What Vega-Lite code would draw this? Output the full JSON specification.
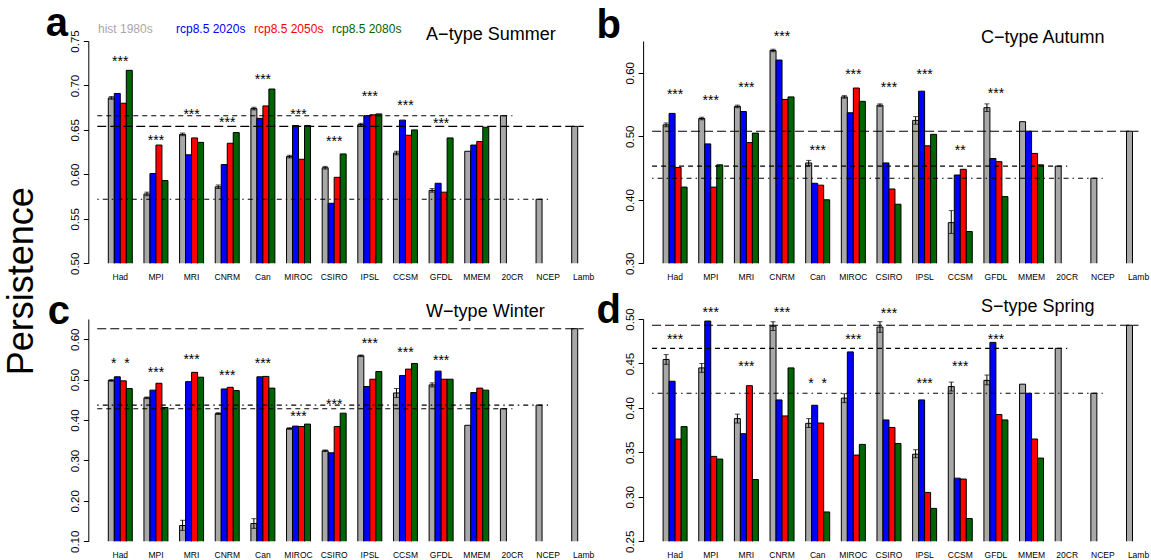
{
  "$schema": "https://vega.github.io/schema/vega-lite/v6.json",
  "autosize": {"type": "none"},
  "padding": {"left": 88.3, "top": 41, "right": 1062.7, "bottom": 519},
  "config": {
    "font": "Liberation Sans",
    "view": {"stroke": null},
    "text": {"color": "black"}
  },
  "title": {"text": "Persistence", "orient": "left", "anchor": "middle", "fontSize": 36, "fontWeight": "normal", "offset": 4, "color": "black", "font": "Liberation Sans"},
  "datasets": {
    "d": [
      {"p": "a", "m": "Had", "h": 0.686, "r20": 0.691, "r50": 0.680, "r80": 0.717, "lo": 0.6845, "hi": 0.6875, "star": "***", "sy": 0.7305},
      {"p": "a", "m": "MPI", "h": 0.578, "r20": 0.601, "r50": 0.633, "r80": 0.593, "lo": 0.576, "hi": 0.580, "star": "***", "sy": 0.642},
      {"p": "a", "m": "MRI", "h": 0.645, "r20": 0.622, "r50": 0.641, "r80": 0.636, "lo": 0.6435, "hi": 0.6465, "star": "***", "sy": 0.671},
      {"p": "a", "m": "CNRM", "h": 0.586, "r20": 0.611, "r50": 0.635, "r80": 0.647, "lo": 0.584, "hi": 0.588, "star": "***", "sy": 0.662},
      {"p": "a", "m": "Can", "h": 0.674, "r20": 0.663, "r50": 0.677, "r80": 0.696, "lo": 0.6725, "hi": 0.6755, "star": "***", "sy": 0.711},
      {"p": "a", "m": "MIROC", "h": 0.620, "r20": 0.655, "r50": 0.617, "r80": 0.655, "lo": 0.6185, "hi": 0.6215, "star": "***", "sy": 0.671},
      {"p": "a", "m": "CSIRO", "h": 0.6075, "r20": 0.5675, "r50": 0.5967, "r80": 0.623, "lo": 0.606, "hi": 0.609, "star": "***", "sy": 0.641},
      {"p": "a", "m": "IPSL", "h": 0.656, "r20": 0.666, "r50": 0.667, "r80": 0.668, "lo": 0.6545, "hi": 0.6575, "star": "***", "sy": 0.691},
      {"p": "a", "m": "CCSM", "h": 0.624, "r20": 0.661, "r50": 0.644, "r80": 0.650, "lo": 0.622, "hi": 0.626, "star": "***", "sy": 0.681},
      {"p": "a", "m": "GFDL", "h": 0.582, "r20": 0.590, "r50": 0.580, "r80": 0.641, "lo": 0.580, "hi": 0.584, "star": "***", "sy": 0.661},
      {"p": "a", "m": "MMEM", "h": 0.626, "r20": 0.633, "r50": 0.637, "r80": 0.653},
      {"p": "a", "m": "20CR", "h": 0.666},
      {"p": "a", "m": "NCEP", "h": 0.572},
      {"p": "a", "m": "Lamb", "h": 0.654},

      {"p": "b", "m": "Had", "h": 0.518, "r20": 0.536, "r50": 0.451, "r80": 0.420, "lo": 0.515, "hi": 0.521, "star": "***", "sy": 0.572},
      {"p": "b", "m": "MPI", "h": 0.528, "r20": 0.488, "r50": 0.420, "r80": 0.455, "lo": 0.526, "hi": 0.530, "star": "***", "sy": 0.562},
      {"p": "b", "m": "MRI", "h": 0.547, "r20": 0.539, "r50": 0.490, "r80": 0.505, "lo": 0.545, "hi": 0.549, "star": "***", "sy": 0.583},
      {"p": "b", "m": "CNRM", "h": 0.635, "r20": 0.620, "r50": 0.558, "r80": 0.562, "lo": 0.633, "hi": 0.637, "star": "***", "sy": 0.662},
      {"p": "b", "m": "Can", "h": 0.458, "r20": 0.426, "r50": 0.423, "r80": 0.400, "lo": 0.454, "hi": 0.462, "star": "***", "sy": 0.483},
      {"p": "b", "m": "MIROC", "h": 0.562, "r20": 0.537, "r50": 0.576, "r80": 0.555, "lo": 0.560, "hi": 0.564, "star": "***", "sy": 0.603},
      {"p": "b", "m": "CSIRO", "h": 0.549, "r20": 0.458, "r50": 0.417, "r80": 0.393, "lo": 0.547, "hi": 0.551, "star": "***", "sy": 0.583},
      {"p": "b", "m": "IPSL", "h": 0.525, "r20": 0.571, "r50": 0.485, "r80": 0.503, "lo": 0.519, "hi": 0.531, "star": "***", "sy": 0.603},
      {"p": "b", "m": "CCSM", "h": 0.364, "r20": 0.439, "r50": 0.448, "r80": 0.350, "lo": 0.347, "hi": 0.383, "star": "**", "sy": 0.483},
      {"p": "b", "m": "GFDL", "h": 0.545, "r20": 0.465, "r50": 0.460, "r80": 0.405, "lo": 0.539, "hi": 0.551, "star": "***", "sy": 0.573},
      {"p": "b", "m": "MMEM", "h": 0.523, "r20": 0.508, "r50": 0.473, "r80": 0.455},
      {"p": "b", "m": "20CR", "h": 0.453},
      {"p": "b", "m": "NCEP", "h": 0.434},
      {"p": "b", "m": "Lamb", "h": 0.508},

      {"p": "c", "m": "Had", "h": 0.498, "r20": 0.507, "r50": 0.497, "r80": 0.478, "lo": 0.496, "hi": 0.500, "star": "*\u00a0\u00a0*", "sy": 0.549},
      {"p": "c", "m": "MPI", "h": 0.455, "r20": 0.474, "r50": 0.491, "r80": 0.431, "lo": 0.453, "hi": 0.457, "star": "***", "sy": 0.527},
      {"p": "c", "m": "MRI", "h": 0.139, "r20": 0.495, "r50": 0.518, "r80": 0.506, "lo": 0.127, "hi": 0.152, "star": "***", "sy": 0.559},
      {"p": "c", "m": "CNRM", "h": 0.416, "r20": 0.477, "r50": 0.481, "r80": 0.473, "lo": 0.414, "hi": 0.418, "star": "***", "sy": 0.519},
      {"p": "c", "m": "Can", "h": 0.144, "r20": 0.507, "r50": 0.508, "r80": 0.479, "lo": 0.132, "hi": 0.156, "star": "***", "sy": 0.549},
      {"p": "c", "m": "MIROC", "h": 0.379, "r20": 0.385, "r50": 0.384, "r80": 0.390, "lo": 0.377, "hi": 0.381, "star": "***", "sy": 0.417},
      {"p": "c", "m": "CSIRO", "h": 0.324, "r20": 0.319, "r50": 0.384, "r80": 0.417, "lo": 0.322, "hi": 0.326, "star": "***", "sy": 0.447},
      {"p": "c", "m": "IPSL", "h": 0.559, "r20": 0.483, "r50": 0.501, "r80": 0.520, "lo": 0.557, "hi": 0.561, "star": "***", "sy": 0.598},
      {"p": "c", "m": "CCSM", "h": 0.467, "r20": 0.510, "r50": 0.526, "r80": 0.540, "lo": 0.456, "hi": 0.478, "star": "***", "sy": 0.577},
      {"p": "c", "m": "GFDL", "h": 0.487, "r20": 0.521, "r50": 0.501, "r80": 0.501, "lo": 0.482, "hi": 0.492, "star": "***", "sy": 0.557},
      {"p": "c", "m": "MMEM", "h": 0.387, "r20": 0.468, "r50": 0.479, "r80": 0.474},
      {"p": "c", "m": "20CR", "h": 0.428},
      {"p": "c", "m": "NCEP", "h": 0.437},
      {"p": "c", "m": "Lamb", "h": 0.626},

      {"p": "d", "m": "Had", "h": 0.4545, "r20": 0.430, "r50": 0.365, "r80": 0.379, "lo": 0.449, "hi": 0.460, "star": "***", "sy": 0.481},
      {"p": "d", "m": "MPI", "h": 0.445, "r20": 0.4977, "r50": 0.3455, "r80": 0.3425, "lo": 0.440, "hi": 0.450, "star": "***", "sy": 0.511},
      {"p": "d", "m": "MRI", "h": 0.388, "r20": 0.371, "r50": 0.425, "r80": 0.3195, "lo": 0.383, "hi": 0.393, "star": "***", "sy": 0.451},
      {"p": "d", "m": "CNRM", "h": 0.492, "r20": 0.409, "r50": 0.391, "r80": 0.445, "lo": 0.487, "hi": 0.497, "star": "***", "sy": 0.511},
      {"p": "d", "m": "Can", "h": 0.3827, "r20": 0.403, "r50": 0.383, "r80": 0.283, "lo": 0.378, "hi": 0.388, "star": "*\u00a0\u00a0*", "sy": 0.431},
      {"p": "d", "m": "MIROC", "h": 0.411, "r20": 0.463, "r50": 0.347, "r80": 0.359, "lo": 0.406, "hi": 0.416, "star": "***", "sy": 0.481},
      {"p": "d", "m": "CSIRO", "h": 0.491, "r20": 0.3865, "r50": 0.378, "r80": 0.360, "lo": 0.485, "hi": 0.497, "star": "***", "sy": 0.5105},
      {"p": "d", "m": "IPSL", "h": 0.348, "r20": 0.409, "r50": 0.305, "r80": 0.287, "lo": 0.344, "hi": 0.353, "star": "***", "sy": 0.431},
      {"p": "d", "m": "CCSM", "h": 0.424, "r20": 0.321, "r50": 0.320, "r80": 0.2756, "lo": 0.419, "hi": 0.429, "star": "***", "sy": 0.451},
      {"p": "d", "m": "GFDL", "h": 0.431, "r20": 0.4737, "r50": 0.3925, "r80": 0.3865, "lo": 0.426, "hi": 0.437, "star": "***", "sy": 0.481},
      {"p": "d", "m": "MMEM", "h": 0.4267, "r20": 0.4165, "r50": 0.365, "r80": 0.3436},
      {"p": "d", "m": "20CR", "h": 0.467},
      {"p": "d", "m": "NCEP", "h": 0.4165},
      {"p": "d", "m": "Lamb", "h": 0.493}
    ]
  },
  "data": {"name": "d"},
  "columns": 2,
  "spacing": {"row": 55, "column": 26.8},
  "bounds": "flush",
  "concat": [
    {
      "width": 527.4, "height": 222.3,
      "transform": [{"filter": "datum.p == 'a'"}],
      "layer": [
        {
          "transform": [{"fold": ["h", "r20", "r50", "r80"], "as": ["scenario", "value"]}, {"filter": "isValid(datum.value)"}],
          "mark": {"type": "bar", "stroke": "black", "strokeWidth": 1, "clip": true},
          "encoding": {
            "x": {"field": "m", "type": "nominal", "sort": null, "scale": {"domain": ["Had","MPI","MRI","CNRM","Can","MIROC","CSIRO","IPSL","CCSM","GFDL","MMEM","20CR","NCEP","Lamb"], "paddingInner": 0.3268, "paddingOuter": 0.561},
              "axis": {"title": null, "domain": false, "ticks": false, "labelAngle": 0, "labelFontSize": 8.5, "labelPadding": 9.5, "labelColor": "black", "labelOverlap": false}},
            "xOffset": {"field": "scenario", "type": "nominal", "scale": {"domain": ["h", "r20", "r50", "r80"], "paddingInner": 0, "paddingOuter": 0}},
            "y": {"field": "value", "type": "quantitative", "scale": {"domain": [0.5, 0.75], "zero": false, "nice": false},
              "axis": {"title": "a", "titleX": -43, "titleY": -6, "titleAngle": 0, "titleAlign": "left", "titleBaseline": "alphabetic", "titleFontSize": 40, "titleFontWeight": "bold", "titleColor": "black",
                "values": [0.5, 0.55, 0.6, 0.65, 0.7, 0.75], "format": ".2f", "labelAngle": 270, "labelAlign": "center", "labelBaseline": "alphabetic", "labelPadding": 5, "labelFontSize": 11.5, "labelColor": "black", "grid": false, "domainColor": "black", "tickColor": "black", "tickSize": 5, "labelOverlap": false, "labelFlush": false}},
            "color": {"field": "scenario", "type": "nominal", "scale": {"domain": ["h", "r20", "r50", "r80"], "range": ["#A8A8A8", "#0000FF", "#FF0000", "#006400"]},
              "legend": {"orient": "none", "legendX": 9.7, "legendY": -18, "direction": "horizontal", "columns": 4, "gridAlign": "all", "columnPadding": 8, "symbolSize": 0, "symbolOpacity": 0, "symbolStrokeWidth": 0, "labelOffset": -12, "labelFontSize": 12, "title": null, "padding": 0,
                "labelColor": {"expr": "scale('color', datum.value)"},
                "labelExpr": "{'h': 'hist 1980s', 'r20': 'rcp8.5 2020s', 'r50': 'rcp8.5 2050s', 'r80': 'rcp8.5 2080s'}[datum.value]"}}
          }
        },
        {
          "transform": [{"filter": "isValid(datum.lo)"}, {"fold": ["h"], "as": ["scenario", "hv"]}],
          "mark": {"type": "rule", "color": "black", "strokeWidth": 1},
          "encoding": {"x": {"field": "m", "type": "nominal"}, "xOffset": {"field": "scenario", "type": "nominal"}, "y": {"field": "lo", "type": "quantitative"}, "y2": {"field": "hi"}}
        },
        {
          "transform": [{"filter": "isValid(datum.lo)"}, {"fold": ["h"], "as": ["scenario", "hv"]}, {"fold": ["lo", "hi"], "as": ["k", "ev"]}],
          "mark": {"type": "tick", "color": "black", "thickness": 1, "size": 5},
          "encoding": {"x": {"field": "m", "type": "nominal"}, "xOffset": {"field": "scenario", "type": "nominal"}, "y": {"field": "ev", "type": "quantitative"}}
        },
        {
          "transform": [{"window": [{"op": "first_value", "field": "m", "as": "m0"}], "frame": [null, null]}, {"filter": "indexof(['20CR','NCEP','Lamb'], datum.m) >= 0"}],
          "mark": {"type": "rule", "color": "black", "strokeWidth": 1.1},
          "encoding": {"x": {"field": "m0", "type": "nominal", "bandPosition": -0.46}, "x2": {"field": "m"}, "y": {"field": "h", "type": "quantitative"},
            "strokeDash": {"field": "m", "type": "nominal", "scale": {"domain": ["20CR", "NCEP", "Lamb"], "range": [[5, 4], [1.5, 4, 5, 4], [9, 4]]}, "legend": null}}
        },
        {
          "transform": [{"filter": "isValid(datum.star)"}],
          "mark": {"type": "text", "fontSize": 14, "baseline": "alphabetic", "dy": 8, "color": "black"},
          "encoding": {"x": {"field": "m", "type": "nominal"}, "y": {"field": "sy", "type": "quantitative"}, "text": {"field": "star", "type": "nominal"}}
        },
        {
          "transform": [{"filter": "datum.m == 'GFDL'"}],
          "mark": {"type": "text", "fontSize": 18, "align": "left", "baseline": "alphabetic", "dx": -3, "dy": -1, "color": "black"},
          "encoding": {"x": {"field": "m", "type": "nominal", "bandPosition": 0}, "y": {"datum": 0.75, "type": "quantitative"}, "text": {"value": "A\u2212type Summer"}}
        }
      ]
    },
    {
      "width": 527.4, "height": 222.3,
      "transform": [{"filter": "datum.p == 'b'"}],
      "layer": [
        {
          "transform": [{"fold": ["h", "r20", "r50", "r80"], "as": ["scenario", "value"]}, {"filter": "isValid(datum.value)"}],
          "mark": {"type": "bar", "stroke": "black", "strokeWidth": 1, "clip": true},
          "encoding": {
            "x": {"field": "m", "type": "nominal", "sort": null, "scale": {"domain": ["Had","MPI","MRI","CNRM","Can","MIROC","CSIRO","IPSL","CCSM","GFDL","MMEM","20CR","NCEP","Lamb"], "paddingInner": 0.3268, "paddingOuter": 0.561},
              "axis": {"title": null, "domain": false, "ticks": false, "labelAngle": 0, "labelFontSize": 8.5, "labelPadding": 9.5, "labelColor": "black", "labelOverlap": false}},
            "xOffset": {"field": "scenario", "type": "nominal", "scale": {"domain": ["h", "r20", "r50", "r80"], "paddingInner": 0, "paddingOuter": 0}},
            "y": {"field": "value", "type": "quantitative", "scale": {"domain": [0.3, 0.65], "zero": false, "nice": false},
              "axis": {"title": "b", "titleX": -47, "titleY": -4, "titleAngle": 0, "titleAlign": "left", "titleBaseline": "alphabetic", "titleFontSize": 40, "titleFontWeight": "bold", "titleColor": "black",
                "values": [0.3, 0.35, 0.4, 0.45, 0.5, 0.55, 0.6, 0.65], "labelExpr": "round(datum.value*100) % 10 == 0 ? format(datum.value, '.2f') : ''", "labelAngle": 270, "labelAlign": "center", "labelBaseline": "alphabetic", "labelPadding": 5, "labelFontSize": 11.5, "labelColor": "black", "grid": false, "domainColor": "black", "tickColor": "black", "tickSize": 5, "labelOverlap": false, "labelFlush": false}},
            "color": {"field": "scenario", "type": "nominal", "scale": {"domain": ["h", "r20", "r50", "r80"], "range": ["#A8A8A8", "#0000FF", "#FF0000", "#006400"]},
              "legend": {"orient": "none", "legendX": 9.7, "legendY": -18, "direction": "horizontal", "columns": 4, "gridAlign": "all", "columnPadding": 8, "symbolSize": 0, "symbolOpacity": 0, "symbolStrokeWidth": 0, "labelOffset": -12, "labelFontSize": 12, "title": null, "padding": 0,
                "labelColor": {"expr": "scale('color', datum.value)"},
                "labelExpr": "{'h': 'hist 1980s', 'r20': 'rcp8.5 2020s', 'r50': 'rcp8.5 2050s', 'r80': 'rcp8.5 2080s'}[datum.value]"}}
          }
        },
        {
          "transform": [{"filter": "isValid(datum.lo)"}, {"fold": ["h"], "as": ["scenario", "hv"]}],
          "mark": {"type": "rule", "color": "black", "strokeWidth": 1},
          "encoding": {"x": {"field": "m", "type": "nominal"}, "xOffset": {"field": "scenario", "type": "nominal"}, "y": {"field": "lo", "type": "quantitative"}, "y2": {"field": "hi"}}
        },
        {
          "transform": [{"filter": "isValid(datum.lo)"}, {"fold": ["h"], "as": ["scenario", "hv"]}, {"fold": ["lo", "hi"], "as": ["k", "ev"]}],
          "mark": {"type": "tick", "color": "black", "thickness": 1, "size": 5},
          "encoding": {"x": {"field": "m", "type": "nominal"}, "xOffset": {"field": "scenario", "type": "nominal"}, "y": {"field": "ev", "type": "quantitative"}}
        },
        {
          "transform": [{"window": [{"op": "first_value", "field": "m", "as": "m0"}], "frame": [null, null]}, {"filter": "indexof(['20CR','NCEP','Lamb'], datum.m) >= 0"}],
          "mark": {"type": "rule", "color": "black", "strokeWidth": 1.1},
          "encoding": {"x": {"field": "m0", "type": "nominal", "bandPosition": -0.46}, "x2": {"field": "m"}, "y": {"field": "h", "type": "quantitative"},
            "strokeDash": {"field": "m", "type": "nominal", "scale": {"domain": ["20CR", "NCEP", "Lamb"], "range": [[5, 4], [1.5, 4, 5, 4], [9, 4]]}, "legend": null}}
        },
        {
          "transform": [{"filter": "isValid(datum.star)"}],
          "mark": {"type": "text", "fontSize": 14, "baseline": "alphabetic", "dy": 8, "color": "black"},
          "encoding": {"x": {"field": "m", "type": "nominal"}, "y": {"field": "sy", "type": "quantitative"}, "text": {"field": "star", "type": "nominal"}}
        },
        {
          "transform": [{"filter": "datum.m == 'GFDL'"}],
          "mark": {"type": "text", "fontSize": 18, "align": "left", "baseline": "alphabetic", "dx": -3, "dy": 1.7, "color": "black"},
          "encoding": {"x": {"field": "m", "type": "nominal", "bandPosition": 0}, "y": {"datum": 0.65, "type": "quantitative"}, "text": {"value": "C\u2212type Autumn"}}
        }
      ]
    },
    {
      "width": 527.4, "height": 222.3,
      "transform": [{"filter": "datum.p == 'c'"}],
      "layer": [
        {
          "transform": [{"fold": ["h", "r20", "r50", "r80"], "as": ["scenario", "value"]}, {"filter": "isValid(datum.value)"}],
          "mark": {"type": "bar", "stroke": "black", "strokeWidth": 1, "clip": true},
          "encoding": {
            "x": {"field": "m", "type": "nominal", "sort": null, "scale": {"domain": ["Had","MPI","MRI","CNRM","Can","MIROC","CSIRO","IPSL","CCSM","GFDL","MMEM","20CR","NCEP","Lamb"], "paddingInner": 0.3268, "paddingOuter": 0.561},
              "axis": {"title": null, "domain": false, "ticks": false, "labelAngle": 0, "labelFontSize": 8.5, "labelPadding": 9.5, "labelColor": "black", "labelOverlap": false}},
            "xOffset": {"field": "scenario", "type": "nominal", "scale": {"domain": ["h", "r20", "r50", "r80"], "paddingInner": 0, "paddingOuter": 0}},
            "y": {"field": "value", "type": "quantitative", "scale": {"domain": [0.1, 0.65], "zero": false, "nice": false},
              "axis": {"title": "c", "titleX": -41, "titleY": 4.7, "titleAngle": 0, "titleAlign": "left", "titleBaseline": "alphabetic", "titleFontSize": 40, "titleFontWeight": "bold", "titleColor": "black",
                "values": [0.1, 0.15, 0.2, 0.25, 0.3, 0.35, 0.4, 0.45, 0.5, 0.55, 0.6, 0.65], "labelExpr": "round(datum.value*100) % 10 == 0 ? format(datum.value, '.2f') : ''", "labelAngle": 270, "labelAlign": "center", "labelBaseline": "alphabetic", "labelPadding": 5, "labelFontSize": 11.5, "labelColor": "black", "grid": false, "domainColor": "black", "tickColor": "black", "tickSize": 5, "labelOverlap": false, "labelFlush": false}},
            "color": {"field": "scenario", "type": "nominal", "scale": {"domain": ["h", "r20", "r50", "r80"], "range": ["#A8A8A8", "#0000FF", "#FF0000", "#006400"]},
              "legend": {"orient": "none", "legendX": 9.7, "legendY": -18, "direction": "horizontal", "columns": 4, "gridAlign": "all", "columnPadding": 8, "symbolSize": 0, "symbolOpacity": 0, "symbolStrokeWidth": 0, "labelOffset": -12, "labelFontSize": 12, "title": null, "padding": 0,
                "labelColor": {"expr": "scale('color', datum.value)"},
                "labelExpr": "{'h': 'hist 1980s', 'r20': 'rcp8.5 2020s', 'r50': 'rcp8.5 2050s', 'r80': 'rcp8.5 2080s'}[datum.value]"}}
          }
        },
        {
          "transform": [{"filter": "isValid(datum.lo)"}, {"fold": ["h"], "as": ["scenario", "hv"]}],
          "mark": {"type": "rule", "color": "black", "strokeWidth": 1},
          "encoding": {"x": {"field": "m", "type": "nominal"}, "xOffset": {"field": "scenario", "type": "nominal"}, "y": {"field": "lo", "type": "quantitative"}, "y2": {"field": "hi"}}
        },
        {
          "transform": [{"filter": "isValid(datum.lo)"}, {"fold": ["h"], "as": ["scenario", "hv"]}, {"fold": ["lo", "hi"], "as": ["k", "ev"]}],
          "mark": {"type": "tick", "color": "black", "thickness": 1, "size": 5},
          "encoding": {"x": {"field": "m", "type": "nominal"}, "xOffset": {"field": "scenario", "type": "nominal"}, "y": {"field": "ev", "type": "quantitative"}}
        },
        {
          "transform": [{"window": [{"op": "first_value", "field": "m", "as": "m0"}], "frame": [null, null]}, {"filter": "indexof(['20CR','NCEP','Lamb'], datum.m) >= 0"}],
          "mark": {"type": "rule", "color": "black", "strokeWidth": 1.1},
          "encoding": {"x": {"field": "m0", "type": "nominal", "bandPosition": -0.46}, "x2": {"field": "m"}, "y": {"field": "h", "type": "quantitative"},
            "strokeDash": {"field": "m", "type": "nominal", "scale": {"domain": ["20CR", "NCEP", "Lamb"], "range": [[5, 4], [1.5, 4, 5, 4], [9, 4]]}, "legend": null}}
        },
        {
          "transform": [{"filter": "isValid(datum.star)"}],
          "mark": {"type": "text", "fontSize": 14, "baseline": "alphabetic", "dy": 8, "color": "black"},
          "encoding": {"x": {"field": "m", "type": "nominal"}, "y": {"field": "sy", "type": "quantitative"}, "text": {"field": "star", "type": "nominal"}}
        },
        {
          "transform": [{"filter": "datum.m == 'GFDL'"}],
          "mark": {"type": "text", "fontSize": 18, "align": "left", "baseline": "alphabetic", "dx": -3, "dy": -2, "color": "black"},
          "encoding": {"x": {"field": "m", "type": "nominal", "bandPosition": 0}, "y": {"datum": 0.65, "type": "quantitative"}, "text": {"value": "W\u2212type Winter"}}
        }
      ]
    },
    {
      "width": 527.4, "height": 222.3,
      "transform": [{"filter": "datum.p == 'd'"}],
      "layer": [
        {
          "transform": [{"fold": ["h", "r20", "r50", "r80"], "as": ["scenario", "value"]}, {"filter": "isValid(datum.value)"}],
          "mark": {"type": "bar", "stroke": "black", "strokeWidth": 1, "clip": true},
          "encoding": {
            "x": {"field": "m", "type": "nominal", "sort": null, "scale": {"domain": ["Had","MPI","MRI","CNRM","Can","MIROC","CSIRO","IPSL","CCSM","GFDL","MMEM","20CR","NCEP","Lamb"], "paddingInner": 0.3268, "paddingOuter": 0.561},
              "axis": {"title": null, "domain": false, "ticks": false, "labelAngle": 0, "labelFontSize": 8.5, "labelPadding": 9.5, "labelColor": "black", "labelOverlap": false}},
            "xOffset": {"field": "scenario", "type": "nominal", "scale": {"domain": ["h", "r20", "r50", "r80"], "paddingInner": 0, "paddingOuter": 0}},
            "y": {"field": "value", "type": "quantitative", "scale": {"domain": [0.25, 0.5], "zero": false, "nice": false},
              "axis": {"title": "d", "titleX": -47, "titleY": 3.7, "titleAngle": 0, "titleAlign": "left", "titleBaseline": "alphabetic", "titleFontSize": 40, "titleFontWeight": "bold", "titleColor": "black",
                "values": [0.25, 0.3, 0.35, 0.4, 0.45, 0.5], "format": ".2f", "labelAngle": 270, "labelAlign": "center", "labelBaseline": "alphabetic", "labelPadding": 5, "labelFontSize": 11.5, "labelColor": "black", "grid": false, "domainColor": "black", "tickColor": "black", "tickSize": 5, "labelOverlap": false, "labelFlush": false}},
            "color": {"field": "scenario", "type": "nominal", "scale": {"domain": ["h", "r20", "r50", "r80"], "range": ["#A8A8A8", "#0000FF", "#FF0000", "#006400"]},
              "legend": {"orient": "none", "legendX": 9.7, "legendY": -18, "direction": "horizontal", "columns": 4, "gridAlign": "all", "columnPadding": 8, "symbolSize": 0, "symbolOpacity": 0, "symbolStrokeWidth": 0, "labelOffset": -12, "labelFontSize": 12, "title": null, "padding": 0,
                "labelColor": {"expr": "scale('color', datum.value)"},
                "labelExpr": "{'h': 'hist 1980s', 'r20': 'rcp8.5 2020s', 'r50': 'rcp8.5 2050s', 'r80': 'rcp8.5 2080s'}[datum.value]"}}
          }
        },
        {
          "transform": [{"filter": "isValid(datum.lo)"}, {"fold": ["h"], "as": ["scenario", "hv"]}],
          "mark": {"type": "rule", "color": "black", "strokeWidth": 1},
          "encoding": {"x": {"field": "m", "type": "nominal"}, "xOffset": {"field": "scenario", "type": "nominal"}, "y": {"field": "lo", "type": "quantitative"}, "y2": {"field": "hi"}}
        },
        {
          "transform": [{"filter": "isValid(datum.lo)"}, {"fold": ["h"], "as": ["scenario", "hv"]}, {"fold": ["lo", "hi"], "as": ["k", "ev"]}],
          "mark": {"type": "tick", "color": "black", "thickness": 1, "size": 5},
          "encoding": {"x": {"field": "m", "type": "nominal"}, "xOffset": {"field": "scenario", "type": "nominal"}, "y": {"field": "ev", "type": "quantitative"}}
        },
        {
          "transform": [{"window": [{"op": "first_value", "field": "m", "as": "m0"}], "frame": [null, null]}, {"filter": "indexof(['20CR','NCEP','Lamb'], datum.m) >= 0"}],
          "mark": {"type": "rule", "color": "black", "strokeWidth": 1.1},
          "encoding": {"x": {"field": "m0", "type": "nominal", "bandPosition": -0.46}, "x2": {"field": "m"}, "y": {"field": "h", "type": "quantitative"},
            "strokeDash": {"field": "m", "type": "nominal", "scale": {"domain": ["20CR", "NCEP", "Lamb"], "range": [[5, 4], [1.5, 4, 5, 4], [9, 4]]}, "legend": null}}
        },
        {
          "transform": [{"filter": "isValid(datum.star)"}],
          "mark": {"type": "text", "fontSize": 14, "baseline": "alphabetic", "dy": 8, "color": "black"},
          "encoding": {"x": {"field": "m", "type": "nominal"}, "y": {"field": "sy", "type": "quantitative"}, "text": {"field": "star", "type": "nominal"}}
        },
        {
          "transform": [{"filter": "datum.m == 'GFDL'"}],
          "mark": {"type": "text", "fontSize": 18, "align": "left", "baseline": "alphabetic", "dx": -3, "dy": -7, "color": "black"},
          "encoding": {"x": {"field": "m", "type": "nominal", "bandPosition": 0}, "y": {"datum": 0.5, "type": "quantitative"}, "text": {"value": "S\u2212type Spring"}}
        }
      ]
    }
  ]
}
